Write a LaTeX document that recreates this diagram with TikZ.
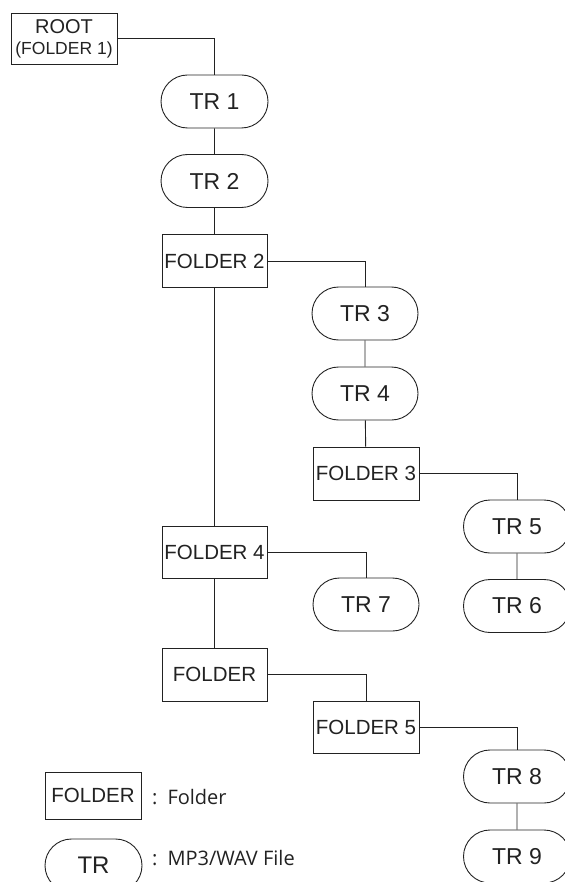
\documentclass[tikz,border=0pt]{standalone}
\usepackage{fontspec}
\setmainfont{Liberation Sans}
\newfontfamily\legfont{Open Sans}
\usetikzlibrary{shapes.misc}
\definecolor{ink}{HTML}{222222}
\tikzset{
  folderbox/.style={draw=ink, line width=0.9pt, rectangle, minimum width=105pt, minimum height=53pt, inner sep=0pt, font=\fontsize{20.5}{22}\selectfont, text=ink},
  trbox/.style={draw=ink, line width=0.9pt, rounded rectangle, minimum width=107pt, minimum height=53pt, inner sep=0pt, font=\fontsize{23}{24}\selectfont, text=ink},
  legtext/.style={anchor=west, inner sep=0pt, font=\legfont\fontsize{20}{22}\selectfont, text=ink},
  link/.style={draw=ink, line width=0.9pt}
}
\begin{document}
\begin{tikzpicture}[x=1pt,y=-1pt]
\useasboundingbox (0,0) rectangle (564,882);
\node[folderbox, minimum width=106pt, minimum height=51pt, align=center, font=\fontsize{17.5}{21}\selectfont] (root) at (64,38.5) {{\fontsize{20}{21}\selectfont ROOT}\\(FOLDER 1)};
\node[trbox] (tr1) at (214.5,101.5) {TR 1};
\node[trbox] (tr2) at (214.5,181) {TR 2};
\node[folderbox] (f2) at (214.5,261) {FOLDER 2};
\node[trbox, minimum width=106pt] (tr3) at (365,313.5) {TR 3};
\node[trbox, minimum width=106pt] (tr4) at (365,393.5) {TR 4};
\node[folderbox, minimum width=106pt] (f3) at (366,473.5) {FOLDER 3};
\node[trbox] (tr5) at (517,526.5) {TR 5};
\node[trbox] (tr6) at (517,606) {TR 6};
\node[folderbox, minimum height=52pt] (f4) at (214.5,552) {FOLDER 4};
\node[trbox, minimum width=106pt] (tr7) at (366,604.5) {TR 7};
\node[folderbox] (fo) at (214.5,674.5) {FOLDER};
\node[folderbox, minimum width=106pt, minimum height=52pt] (f5) at (366,727) {FOLDER 5};
\node[trbox] (tr8) at (517,776.5) {TR 8};
\node[trbox] (tr9) at (517,856.5) {TR 9};
% connectors
\draw[link] (root.east) -| (tr1.north);
\draw[link] (tr1) -- (tr2);
\draw[link] (tr2) -- (f2);
\draw[link] (f2) -- (f4);
\draw[link] (f4) -- (fo);
\draw[link] (f2.east) -| (tr3.north);
\draw[link] (tr3) -- (tr4);
\draw[link] (tr4) -- (f3);
\draw[link] (f3.east) -| (tr5.north);
\draw[link] (tr5) -- (tr6);
\draw[link] (f4.east) -| (tr7.north);
\draw[link] (fo.east) -| (f5.north);
\draw[link] (f5.east) -| (tr8.north);
\draw[link] (tr8) -- (tr9);
% legend
\node[folderbox, minimum width=96pt, minimum height=47pt] (lf) at (93,795.5) {FOLDER};
\node[legtext] (lft) at (152,797) {:\hspace{10pt}Folder};
\node[trbox, minimum width=97pt, font=\fontsize{24}{25}\selectfont] (ltr) at (93.5,865.5) {TR};
\node[legtext] (ltrt) at (152,858) {:\hspace{10pt}MP3/WAV File};
\end{tikzpicture}
\end{document}
